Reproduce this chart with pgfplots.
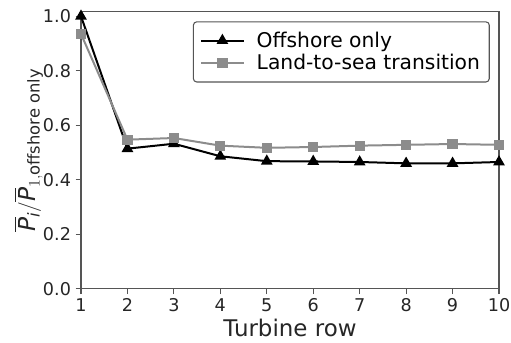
\documentclass[border=0pt]{standalone}
\usepackage{amsmath}
\usepackage{fontspec}
\setmainfont{DejaVu Sans}
\usepackage{pgfplots}
\pgfplotsset{compat=1.18}
\definecolor{lgray}{HTML}{8C8C8C}
\definecolor{frame}{HTML}{555555}
\begin{document}
\begin{tikzpicture}
\begin{axis}[
  scale only axis,
  width=313.5pt, height=208pt,
  xmin=1, xmax=10, ymin=0, ymax=1.018,
  xtick={1,2,...,10},
  ytick={0,0.2,0.4,0.6,0.8,1.0},
  yticklabel style={/pgf/number format/.cd,fixed,fixed zerofill,precision=1},
  /pgf/number format/assume math mode=true,
  tick label style={font=\fontsize{13.2pt}{15pt}\selectfont, text=black!85},
  xlabel style={font=\fontsize{17.2pt}{18pt}\selectfont, text=black!85, inner sep=0pt, yshift=-2pt},
  ylabel style={font=\fontsize{17.5pt}{18pt}\selectfont, text=black!85, yshift=-7pt},
  xlabel={Turbine row},
  ylabel={$\overline{\textit{P}}_{\textit{i}}/\overline{\textit{P}}_{1,\text{offshore only}}$},
  tick align=outside, tick pos=left,
  major tick length=4pt,
  axis line style={frame, line width=0.9pt},
  every tick/.style={frame, line width=0.8pt},
  legend style={at={(0.978,0.964)}, anchor=north east, draw=frame, rounded corners=2.5pt,
    font=\fontsize{15.2pt}{16pt}\selectfont, inner xsep=5pt, inner ysep=5.5pt, row sep=0pt, line width=0.8pt},
  legend cell align=left,
  legend image code/.code={\draw[#1, mark=none] (0pt,0pt) -- (32pt,0pt); \draw[#1, only marks] plot coordinates {(16pt,0pt)}; \path (39pt,0pt);},
  clip=false,
]
\addplot[black, line width=1.5pt, mark=triangle*, mark size=3.6pt, mark options={solid}]
  coordinates {(1,1.0) (2,0.514) (3,0.532) (4,0.486) (5,0.468) (6,0.467) (7,0.465) (8,0.460) (9,0.460) (10,0.465)};
\addlegendentry{Offshore only}
\addplot[lgray, line width=1.5pt, mark=square*, mark size=3.1pt, mark options={solid}]
  coordinates {(1,0.935) (2,0.547) (3,0.553) (4,0.525) (5,0.517) (6,0.520) (7,0.525) (8,0.528) (9,0.531) (10,0.528)};
\addlegendentry{Land-to-sea transition}
\end{axis}
\pgfresetboundingbox
\path ([shift={(-60.75pt,-40.5pt)}]current axis.south west) rectangle ([shift={(9pt,8.5pt)}]current axis.north east);
\end{tikzpicture}
\end{document}
